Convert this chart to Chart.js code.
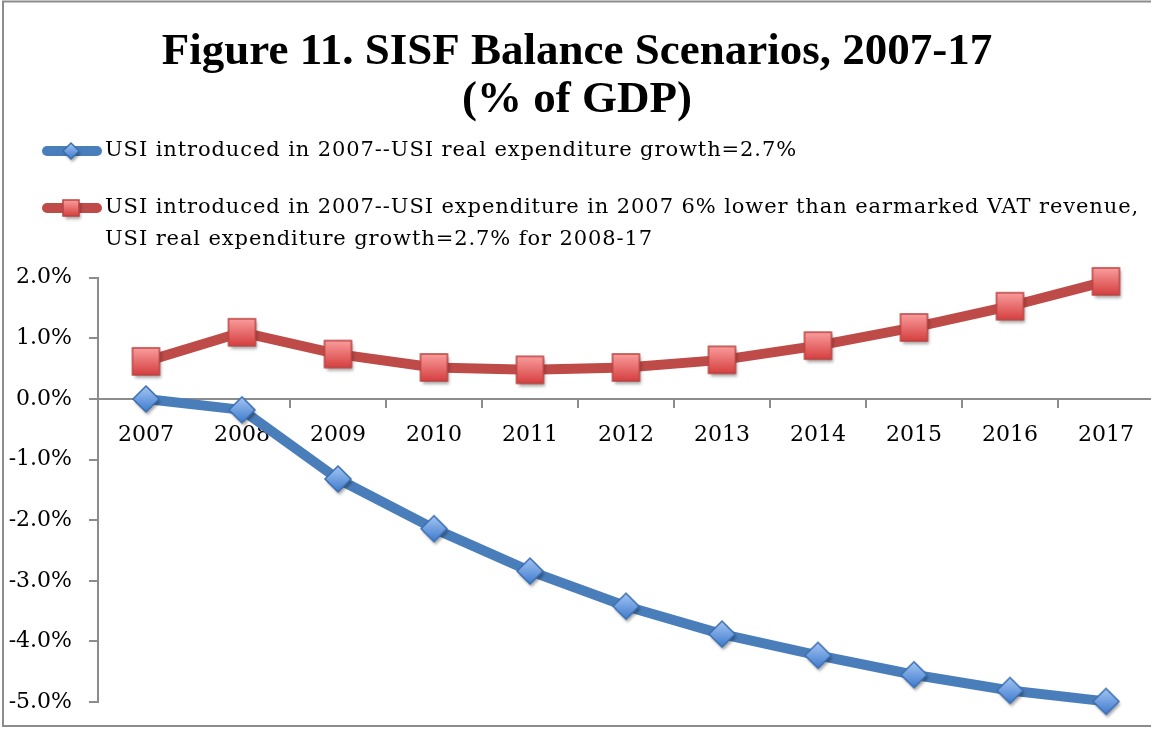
<!DOCTYPE html>
<html>
<head>
<meta charset="utf-8">
<title>SISF Balance Scenarios</title>
<script src="https://cdn.jsdelivr.net/npm/chart.js@4.4.1/dist/chart.umd.min.js"></script>
<style>
  html, body { margin: 0; padding: 0; background: #fff; overflow: hidden; }
  #wrap { position: relative; width: 1154px; height: 729px; }
</style>
</head>
<body>
<div id="wrap"><canvas id="balanceChart"></canvas></div>
<script>
// data (% of GDP)
const years = ['2007', '2008', '2009', '2010', '2011', '2012', '2013', '2014', '2015', '2016', '2017'];
const usiGrowth = [0, -0.18, -1.32, -2.14, -2.84, -3.42, -3.88, -4.23, -4.55, -4.81, -4.99];
const usiLowerStart = [0.62, 1.10, 0.74, 0.52, 0.48, 0.52, 0.645, 0.88, 1.18, 1.53, 1.94];
const yTicks = [2, 1, 0, -1, -2, -3, -4, -5];
const titleLines = ['Figure 11. SISF Balance Scenarios, 2007-17', '(% of GDP)'];
const legendLines = [
  ['USI introduced in 2007--USI real expenditure growth=2.7%'],
  ['USI introduced in 2007--USI expenditure in 2007 6% lower than earmarked VAT revenue,',
   'USI real expenditure growth=2.7% for 2008-17']
];

const BLUE = '#4a7ebb';
const RED = '#be4b48';
const AXIS = '#8c8c8c';
const BODY_FONT = "'DejaVu Serif', serif";

// shaded marker drawn once on a small canvas, used as pointStyle
function makeMarker(shape, h, light, dark, edge) {
  const size = Math.ceil(h * 2 + 14);
  const c = document.createElement('canvas');
  c.width = size; c.height = size;
  const g = c.getContext('2d');
  const m = size / 2;
  const path = () => {
    g.beginPath();
    if (shape === 'square') {
      g.rect(m - h, m - h, 2 * h, 2 * h);
    } else {
      g.moveTo(m, m - h); g.lineTo(m + h, m); g.lineTo(m, m + h); g.lineTo(m - h, m);
      g.closePath();
    }
  };
  const grad = g.createLinearGradient(0, m - h, 0, m + h);
  grad.addColorStop(0, light);
  grad.addColorStop(1, dark);
  g.save();
  g.shadowColor = 'rgba(0,0,0,0.35)';
  g.shadowBlur = 3;
  g.shadowOffsetX = 1.5;
  g.shadowOffsetY = 3;
  path();
  g.fillStyle = grad;
  g.fill();
  g.restore();
  path();
  g.lineWidth = 1.5;
  g.strokeStyle = edge;
  g.stroke();
  return c;
}

const blueMark = makeMarker('diamond', 13, '#a3c6f4', '#3f7acd', '#3b6fb0');
const redMark = makeMarker('square', 13.5, '#fa9d9d', '#d63f3f', '#b94341');
const blueMarkSmall = makeMarker('diamond', 8, '#a3c6f4', '#3f7acd', '#3b6fb0');
const redMarkSmall = makeMarker('square', 8, '#fa9d9d', '#d63f3f', '#b94341');

// legend with line-through-marker keys, wrapped text
const keyLegend = {
  id: 'keyLegend',
  beforeDraw(chart) {
    const ctx = chart.ctx;
    ctx.save();
    ctx.strokeStyle = AXIS;
    ctx.lineWidth = 2;
    ctx.strokeRect(3, 1.5, chart.width + 10, 724.5);
    ctx.restore();
  },
  afterDraw(chart) {
    const ctx = chart.ctx;
    const rows = [
      { y: 151, color: BLUE, mark: blueMarkSmall, lines: legendLines[0] },
      { y: 208, color: RED, mark: redMarkSmall, lines: legendLines[1] }
    ];
    ctx.save();
    rows.forEach(r => {
      ctx.strokeStyle = r.color;
      ctx.lineWidth = 10;
      ctx.lineCap = 'round';
      ctx.beginPath();
      ctx.moveTo(47, r.y);
      ctx.lineTo(97, r.y);
      ctx.stroke();
      ctx.drawImage(r.mark, 71 - r.mark.width / 2, r.y - r.mark.height / 2);
      ctx.fillStyle = '#000';
      ctx.font = '21px ' + BODY_FONT;
      ctx.letterSpacing = '0.9px';
      ctx.textBaseline = 'middle';
      ctx.textAlign = 'left';
      r.lines.forEach((t, i) => ctx.fillText(t, 105, r.y + i * 32));
    });
    ctx.restore();
  }
};

const ctx = document.getElementById('balanceChart').getContext('2d');

new Chart(ctx, {
  type: 'line',
  data: {
    labels: years,
    datasets: [{
      label: legendLines[0].join(' '),
      data: usiGrowth,
      borderColor: BLUE,
      borderWidth: 10,
      borderJoinStyle: 'round',
      borderCapStyle: 'round',
      pointStyle: blueMark,
      pointRadius: 13,
      tension: 0,
      clip: false
    }, {
      label: legendLines[1].join(' '),
      data: usiLowerStart,
      borderColor: RED,
      borderWidth: 10,
      borderJoinStyle: 'round',
      borderCapStyle: 'round',
      pointStyle: redMark,
      pointRadius: 13,
      tension: 0,
      clip: false
    }]
  },
  options: {
    responsive: true,
    maintainAspectRatio: false,
    animation: false,
    layout: { autoPadding: false, padding: { top: 0, left: 0, right: 0, bottom: 27 } },
    scales: {
      x: {
        type: 'category',
        position: { y: 0 },
        offset: true,
        afterFit: scale => { scale.paddingLeft = 0; scale.paddingRight = 0; },
        grid: { offset: true, drawOnChartArea: false, tickLength: 8, color: AXIS, lineWidth: 2 },
        border: { color: AXIS, width: 2 },
        ticks: {
          color: '#000',
          padding: 15,
          maxRotation: 0,
          autoSkip: false,
          font: { family: BODY_FONT, size: 22 }
        }
      },
      y: {
        min: -5,
        max: 2,
        afterBuildTicks: scale => { scale.ticks = yTicks.map(v => ({ value: v })); },
        afterFit: scale => { scale.width = 98; scale.paddingTop = 0; scale.paddingBottom = 0; },
        grid: { drawOnChartArea: false, tickLength: 9, color: AXIS, lineWidth: 2 },
        border: { color: AXIS, width: 2 },
        ticks: {
          color: '#000',
          padding: 17,
          font: { family: BODY_FONT, size: 22 },
          callback: v => v.toFixed(1) + '%'
        }
      }
    },
    plugins: {
      legend: { display: false },
      tooltip: { enabled: false },
      title: {
        display: true,
        text: titleLines,
        color: '#000',
        font: { family: "'Liberation Serif', serif", size: 45, weight: 'bold', lineHeight: 1.075 },
        padding: { top: 28, bottom: 153 }
      }
    }
  },
  plugins: [keyLegend]
});
</script>
</body>
</html>
